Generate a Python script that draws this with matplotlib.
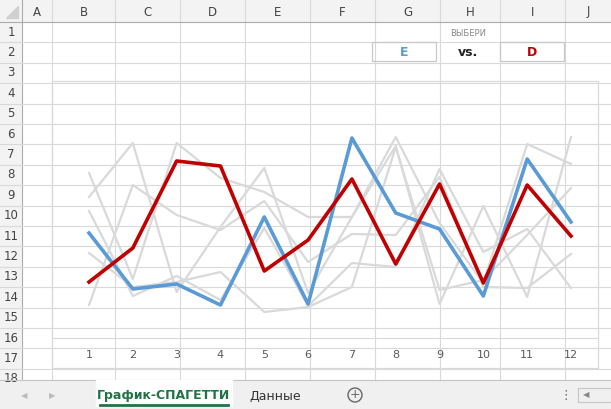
import numpy as np
import matplotlib.pyplot as plt
from matplotlib.patches import Rectangle, Polygon

months = list(range(1, 13))
series_e = [105, 49, 54, 33, 121, 34, 200, 125, 109, 42, 179, 116]
series_d = [56, 90, 177, 172, 67, 98, 159, 74, 154, 55, 153, 102]
others = [
    [141, 195, 46, 111, 170, 45, 121, 192, 34, 132, 41, 201],
    [165, 59, 195, 160, 146, 121, 121, 201, 115, 55, 194, 174],
    [127, 42, 62, 38, 110, 32, 75, 71, 169, 86, 109, 50],
    [85, 51, 56, 66, 26, 31, 51, 191, 48, 58, 103, 150],
    [33, 153, 123, 108, 137, 76, 104, 103, 161, 51, 50, 84],
]
col_names = ["A", "B", "C", "D", "E", "F", "G", "H", "I", "J"]
col_edges = [22, 52, 115, 180, 245, 310, 375, 440, 500, 565, 630]
W, H = 611, 409

fig = plt.figure(figsize=(W / 100, H / 100), dpi=100)
bg = fig.add_axes([0, 0, 1, 1])
bg.set_xlim(0, W)
bg.set_ylim(H, 0)
bg.axis("off")

grid = "#d9d9d9"
# header strip
bg.add_patch(Rectangle((0, 0), W, 22, color="#f3f3f3", zorder=0))
bg.add_patch(Rectangle((0, 0), 22, 380, color="#f3f3f3", zorder=0))
bg.add_patch(Polygon([[18, 6], [18, 18], [6, 18]], color="#d0d0d0"))
for i, name in enumerate(col_names):
    x0, x1 = col_edges[i], col_edges[i + 1]
    bg.plot([x1, x1], [0, 380], color=grid, lw=0.8)
    bg.text((x0 + min(x1, W)) / 2, 12, name, ha="center", va="center",
            fontsize=8.5, color="#444444")
bg.plot([0, W], [22, 22], color="#ababab", lw=0.8)
bg.plot([22, 22], [0, 380], color="#ababab", lw=0.8)
row_h = 20.4
for r in range(1, 19):
    yc = 22 + (r - 0.5) * row_h
    bg.text(11, yc, str(r), ha="center", va="center", fontsize=8.5, color="#444444")
    bg.plot([0, W], [22 + r * row_h, 22 + r * row_h], color=grid, lw=0.8)
bg.add_patch(Rectangle((22, 23), W, 357, color="white", zorder=1))

# selector cells
bg.text(468, 33, "ВЫБЕРИ", ha="center", va="center", fontsize=6, color="#888888", zorder=3)
bg.add_patch(Rectangle((372, 42), 64, 19, fill=False, ec="#c8c8c8", lw=0.9, zorder=3))
bg.add_patch(Rectangle((500, 42), 64, 19, fill=False, ec="#c8c8c8", lw=0.9, zorder=3))
bg.text(404, 52, "E", ha="center", va="center", fontsize=9, color="#5b9bd5", weight="bold", zorder=3)
bg.text(468, 52, "vs.", ha="center", va="center", fontsize=9, color="#222222", weight="bold", zorder=3)
bg.text(532, 52, "D", ha="center", va="center", fontsize=9, color="#c00000", weight="bold", zorder=3)

# chart frame
bg.add_patch(Rectangle((52, 81), 546, 287, fill=False, ec="#d9d9d9", lw=0.9, zorder=3))

# tab bar
bg.add_patch(Rectangle((0, 380), W, 29, color="#f0f0f0", zorder=2))
bg.plot([0, W], [380, 380], color="#c6c6c6", lw=0.8, zorder=3)
bg.add_patch(Rectangle((96, 380), 136, 26, color="white", zorder=3))
bg.plot([100, 228], [405, 405], color="#217346", lw=2, zorder=4)
bg.text(164, 396, "График-СПАГЕТТИ", ha="center", va="center", fontsize=9,
        color="#217346", weight="bold", zorder=4)
bg.text(275, 396, "Данные", ha="center", va="center", fontsize=9, color="#333333", zorder=4)
bg.text(24, 396, "◀", ha="center", va="center", fontsize=6, color="#bbbbbb", zorder=4)
bg.text(52, 396, "▶", ha="center", va="center", fontsize=6, color="#bbbbbb", zorder=4)
bg.add_patch(plt.Circle((355, 395), 7, fill=False, ec="#666666", lw=1, zorder=4))
bg.text(355, 395, "+", ha="center", va="center", fontsize=9, color="#666666", zorder=4)
bg.text(566, 395, "⋮", ha="center", va="center", fontsize=9, color="#666666", zorder=4)
bg.add_patch(Rectangle((578, 388), 33, 14, fill=False, ec="#c6c6c6", lw=0.8, zorder=4))
bg.text(586, 395, "◀", ha="center", va="center", fontsize=6, color="#888888", zorder=4)

# chart axes: x 52..598 px, y 100..338 px
ax = fig.add_axes([52 / W, 1 - 338 / H, 546 / W, 238 / H])
ax.set_xlim(1 - 37 / 43.8, 12 + 27 / 43.8)
ax.set_ylim(0, 238)
ax.patch.set_alpha(0)
for s in ["top", "left", "right"]:
    ax.spines[s].set_visible(False)
ax.spines["bottom"].set_color("#d9d9d9")
ax.set_yticks([])
ax.set_xticks(months)
ax.tick_params(axis="x", length=0, labelsize=8, colors="#595959", pad=9)
for vals in others:
    ax.plot(months, vals, color="#d9d9d9", lw=1.6)
ax.plot(months, series_e, color="#5b9bd5", lw=2.6)
ax.plot(months, series_d, color="#c00000", lw=2.6)

fig.savefig("out.png", dpi=100)
